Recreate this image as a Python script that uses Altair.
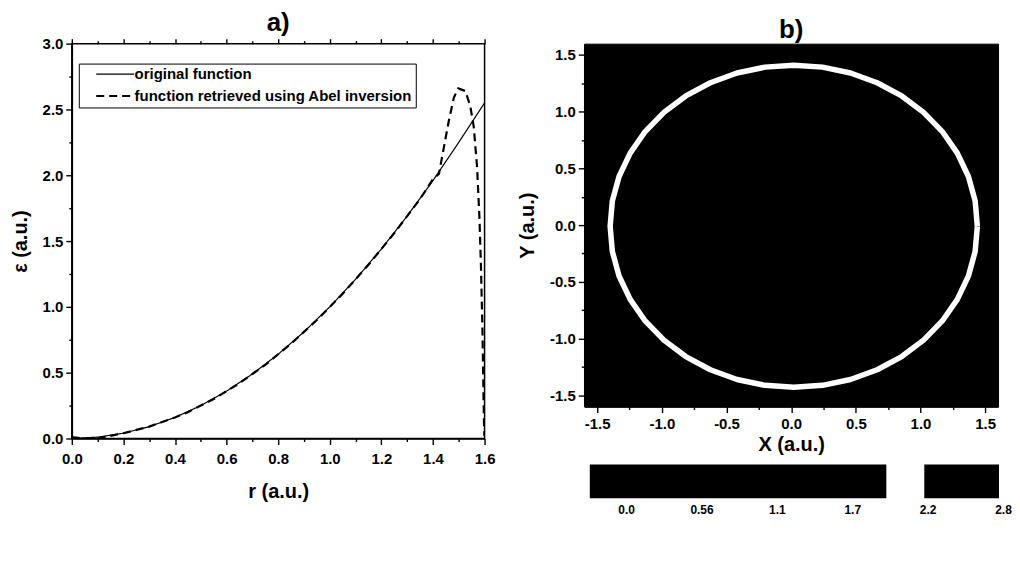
import altair as alt
import pandas as pd

FONT = "Liberation Sans"

# ---------------- panel a) data ----------------
series_names = ["original function", "function retrieved using Abel inversion"]

r_orig = [0.0, 0.1, 0.2, 0.3, 0.4, 0.5, 0.6, 0.7, 0.8, 0.9, 1.0,
          1.1, 1.2, 1.3, 1.4, 1.5, 1.6]
eps_orig = [0.0, 0.01, 0.04, 0.09, 0.16, 0.25, 0.36, 0.49, 0.64, 0.81, 1.0,
            1.21, 1.44, 1.69, 1.96, 2.25, 2.55]

r_abel = [0.0, 0.05, 0.1, 0.15, 0.2, 0.25, 0.3, 0.35, 0.4, 0.45, 0.5, 0.55,
          0.6, 0.65, 0.7, 0.75, 0.8, 0.85, 0.9, 0.95, 1.0, 1.05, 1.1, 1.15,
          1.2, 1.25, 1.3, 1.35, 1.4, 1.423, 1.442, 1.462, 1.481, 1.498,
          1.526, 1.545, 1.558, 1.571, 1.58, 1.586, 1.592, 1.596, 1.599]
eps_abel = [0.01, 0.0, 0.0, 0.02, 0.04, 0.065, 0.09, 0.125, 0.16, 0.2, 0.25,
            0.3, 0.36, 0.42, 0.49, 0.56, 0.64, 0.72, 0.81, 0.9, 1.0, 1.1,
            1.21, 1.32, 1.44, 1.56, 1.69, 1.82, 1.97, 2.01, 2.21, 2.42, 2.59,
            2.66, 2.64, 2.52, 2.37, 2.06, 1.68, 1.31, 0.8, 0.3, 0.02]

x_ticks_a = [0.0, 0.1, 0.2, 0.3, 0.4, 0.5, 0.6, 0.7, 0.8, 0.9, 1.0, 1.1,
             1.2, 1.3, 1.4, 1.5, 1.6]
y_ticks_a = [0.0, 0.25, 0.5, 0.75, 1.0, 1.25, 1.5, 1.75, 2.0, 2.25, 2.5,
             2.75, 3.0]

# ---------------- panel b) data ----------------
ring_x = [1.440, 1.423, 1.371, 1.285, 1.169, 1.024, 0.855, 0.665, 0.459, 0.242, 0.020,
          -0.202, -0.419, -0.625, -0.815, -0.984, -1.129, -1.245, -1.331, -1.383, -1.400,
          -1.383, -1.331, -1.245, -1.129, -0.984, -0.815, -0.625, -0.419, -0.202, 0.020,
          0.242, 0.459, 0.665, 0.855, 1.024, 1.169, 1.285, 1.371, 1.423, 1.440]
ring_y = [-0.010, 0.212, 0.429, 0.635, 0.825, 0.994, 1.139, 1.255, 1.341, 1.393, 1.410,
          1.393, 1.341, 1.255, 1.139, 0.994, 0.825, 0.635, 0.429, 0.212, -0.010,
          -0.232, -0.449, -0.655, -0.845, -1.014, -1.159, -1.275, -1.361, -1.413, -1.430,
          -1.413, -1.361, -1.275, -1.159, -1.014, -0.845, -0.655, -0.449, -0.232, -0.010]
b_ticks = [-1.5, -1.25, -1.0, -0.75, -0.5, -0.25, 0.0, 0.25, 0.5, 0.75, 1.0,
           1.25, 1.5]

# colour bar blocks and labels
cbar_start = [-0.27, 2.215]
cbar_end = [1.933, 2.77]
cbar_ticks = [0.0, 0.56, 1.12, 1.68, 2.24, 2.8]

# ---------------- common styles ----------------
def axis_common(**kw):
    base = dict(
        labelFont=FONT, labelFontSize=15, labelFontWeight="bold", labelColor="black",
        titleFont=FONT, titleFontSize=20, titleFontWeight="bold", titleColor="black",
        domainColor="black", domainWidth=1.6, tickColor="black", tickWidth=1.4,
        grid=False, labelFlush=False, labelOverlap=False,
    )
    base.update(kw)
    return alt.Axis(**base)

even10 = "round(datum.value*10) % 2 == 0"
even4 = "round(datum.value*4) % 2 == 0"
lab1 = "(datum.value < 0 ? '-' : '') + format(abs(datum.value), '.1f')"

# ---------------- panel a ----------------
df_a = pd.DataFrame({
    "r": r_orig + r_abel,
    "eps": eps_orig + eps_abel,
    "series": [series_names[0]] * len(r_orig) + [series_names[1]] * len(r_abel),
    "idx": list(range(len(r_orig))) + list(range(len(r_abel))),
})

xs_a = alt.Scale(domain=[0, 1.6], nice=False, zero=False)
ys_a = alt.Scale(domain=[0, 3.0], nice=False, zero=False)

lines_a = alt.Chart(df_a).mark_line(color="black", clip=True).encode(
    x=alt.X("r:Q", scale=xs_a, axis=axis_common(
        values=x_ticks_a, title="r (a.u.)", titlePadding=15, labelPadding=7,
        labelExpr=f"{even10} ? {lab1} : ''",
        tickSize={"condition": {"test": even10, "value": 6}, "value": 3},
    )),
    y=alt.Y("eps:Q", scale=ys_a, axis=axis_common(
        values=y_ticks_a, title="ε (a.u.)", titlePadding=12, labelPadding=3,
        labelExpr=f"{even4} ? {lab1} : ''",
        tickSize={"condition": {"test": even4, "value": 6}, "value": 3},
    )),
    order="idx:Q",
    strokeDash=alt.StrokeDash("series:N", scale=alt.Scale(
        domain=series_names, range=[[1, 0], [8, 5]]),
        legend=alt.Legend(
            title=None, orient="none", legendX=7, legendY=20,
            strokeColor="black", fillColor="white", padding=3,
            symbolType="M1.167,0H7.5", symbolSize=144, symbolStrokeColor="black",
            symbolStrokeWidth=1.6, labelFont=FONT, labelFontSize=15,
            labelFontWeight="bold", labelColor="black", labelLimit=400,
            labelOffset=38, rowPadding=6,
        )),
    strokeWidth=alt.StrokeWidth("series:N", scale=alt.Scale(
        domain=series_names, range=[1.2, 2.2]), legend=None),
)

top_axis_a = alt.Chart(pd.DataFrame({"r": x_ticks_a})).mark_rule(opacity=0).encode(
    x=alt.X("r:Q", scale=xs_a, axis=axis_common(
        orient="top", values=x_ticks_a, labels=False, title=None, domain=False,
        tickSize={"condition": {"test": even10, "value": 5}, "value": 3},
    )),
)

panel_a = alt.layer(lines_a, top_axis_a).resolve_axis(x="independent").properties(
    width=414, height=396,
    title=alt.Title("a)", font=FONT, fontSize=26, fontWeight="bold", color="black",
                    offset=1),
    view=alt.ViewBackground(stroke="black", strokeWidth=1.5, fill="white"),
)

# ---------------- panel b ----------------
df_ring = pd.DataFrame({"x": ring_x, "y": ring_y, "i": list(range(len(ring_x)))})
xs_b = alt.Scale(domain=[-1.6, 1.6], nice=False, zero=False)
ys_b = alt.Scale(domain=[-1.6, 1.6], nice=False, zero=False)

panel_b = alt.Chart(df_ring).mark_line(color="white", strokeWidth=5.5,
                                       strokeJoin="round").encode(
    x=alt.X("x:Q", scale=xs_b, axis=axis_common(
        values=b_ticks, title="X (a.u.)", titlePadding=3, labelPadding=4,
        labelExpr=f"{even4} ? {lab1} : ''",
        tickSize={"condition": {"test": even4, "value": 6}, "value": 3},
    )),
    y=alt.Y("y:Q", scale=ys_b, axis=axis_common(
        values=b_ticks, title="Y (a.u.)", titlePadding=12, labelPadding=3,
        labelExpr=f"{even4} ? {lab1} : ''",
        tickSize={"condition": {"test": even4, "value": 6}, "value": 3},
    )),
    order="i:Q",
).properties(
    width=415, height=364,
    title=alt.Title("b)", font=FONT, fontSize=26, fontWeight="bold", color="black",
                    offset=1),
    view=alt.ViewBackground(fill="black", stroke="black", strokeWidth=1),
)

# ---------------- colour bar ----------------
df_cb = pd.DataFrame({"start": cbar_start, "end": cbar_end})
cbar = alt.Chart(df_cb).mark_rect(color="black").encode(
    x=alt.X("start:Q", scale=alt.Scale(domain=[-0.311, 2.8], nice=False, zero=False),
            axis=axis_common(values=cbar_ticks, domain=False, ticks=False,
                             labelExpr="datum.value == 0 ? '0.0' : format(datum.value, '.2r')",
                             title=None, labelPadding=6, labelFontSize=12)),
    x2="end:Q",
).properties(
    width=420, height=34,
    view=alt.ViewBackground(strokeWidth=0),
)

right = alt.vconcat(panel_b, cbar, spacing=58, bounds="flush")

chart = alt.hconcat(panel_a, right, spacing=20).properties(
    padding={"left": 1, "top": 0, "right": 0, "bottom": 0},
).configure(background="white")

chart.save("out.html", embed_options={"renderer": "svg", "actions": False})
